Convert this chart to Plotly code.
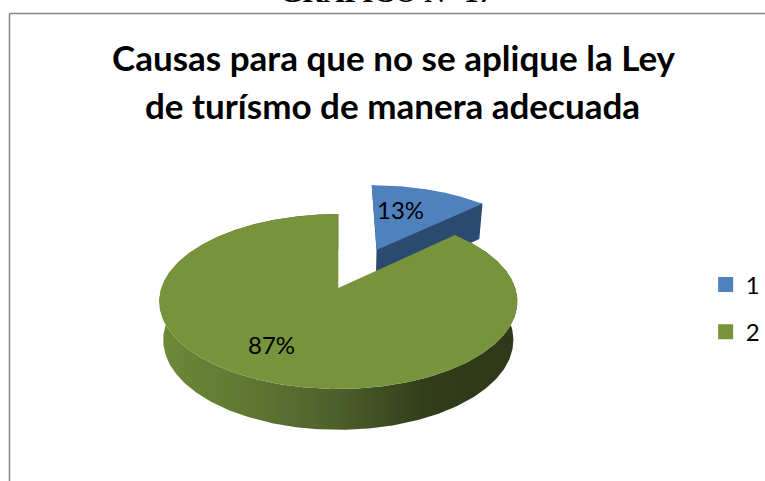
import numpy as np
import plotly.graph_objects as go

# ---- data ----
categories = ["1", "2"]
shares = [13, 87]
colors_top = ["#4f81bd", "#77933c"]
color_side_blue = "#2c4a70"
side_gradient = [[0.0, "#6b8838"], [0.25, "#5f7733"], [0.5, "#4d5f2b"], [0.75, "#323d1b"], [1.0, "#2f3818"]]
title_lines = ["Causas para que no se aplique la Ley", "de turísmo de manera adecuada"]
heading = "GRÁFICO N° 17"

# ---- 3D pie projection (layout only) ----
AX, BY, K = 176.9, 85.4, 0.154
X0, Y0 = 338.3, 288.0
EXPLODE_U, EXPLODE_V = 0.232, 0.478


def project(u, v, lower=False):
    w = 1 + K * v
    x = AX * u / w
    y = BY * v / w
    if lower:
        x = x * 0.978
        y = y - 38.0 / (1 + 0.07 * v)
    return X0 + x, Y0 - y


def arc(start, end, n=160):
    t = np.linspace(start, end, n)
    return np.sin(t), np.cos(t)


frac = np.array(shares) / sum(shares)
a1 = 2 * np.pi * frac[0]

fig = go.Figure()

# blue exploded slice: side first, then top
u, v = arc(0, a1)
u = u + EXPLODE_U
v = v + EXPLODE_V
top_x, top_y = project(u, v)
low_x, low_y = project(u, v, True)
ax_t, ay_t = project(np.array([EXPLODE_U]), np.array([EXPLODE_V]))
ax_l, ay_l = project(np.array([EXPLODE_U]), np.array([EXPLODE_V]), True)
fig.add_trace(go.Scatter(
    x=[ax_t[0], top_x[0], top_x[-1], low_x[-1], ax_l[0], ax_t[0]],
    y=[ay_t[0], top_y[0], top_y[-1], low_y[-1], ay_l[0], ay_t[0]],
    mode="lines", fill="toself", fillcolor=color_side_blue, line=dict(width=0), showlegend=False, hoverinfo="skip"))
fig.add_trace(go.Scatter(
    x=np.r_[ax_t, top_x, ax_t], y=np.r_[ay_t, top_y, ay_t],
    mode="lines", fill="toself", fillcolor=colors_top[0], line=dict(width=0), showlegend=False, hoverinfo="skip"))

# green slice: side with horizontal gradient, then top
u, v = arc(a1, 2 * np.pi, 400)
top_x, top_y = project(u, v)
low_x, low_y = project(u, v, True)
fig.add_trace(go.Scatter(
    x=np.r_[top_x, low_x[::-1]], y=np.r_[top_y, low_y[::-1]],
    mode="lines", fill="toself", line=dict(width=0), showlegend=False, hoverinfo="skip",
    fillgradient=dict(type="horizontal", colorscale=side_gradient, start=165, stop=510)))
ax_g, ay_g = project(np.array([0.0]), np.array([0.0]))
fig.add_trace(go.Scatter(
    x=np.r_[ax_g, top_x, ax_g], y=np.r_[ay_g, top_y, ay_g],
    mode="lines", fill="toself", fillcolor=colors_top[1], line=dict(width=0), showlegend=False, hoverinfo="skip"))

# legend entries
for i, (name, col) in enumerate(zip(categories, colors_top)):
    fig.add_trace(go.Scatter(
        x=[None], y=[None], mode="markers", name=name, legendgroup=name,
        marker=dict(symbol="square", size=15, color=col)))

FONT = "Lato, Carlito, Calibri, sans-serif"
annotations = [
    dict(x=400, y=209, text=f"{shares[0]}%", showarrow=False, font=dict(family=FONT, size=24, color="#000000")),
    dict(x=271.5, y=344, text=f"{shares[1]}%", showarrow=False, font=dict(family=FONT, size=24, color="#000000")),
    dict(x=394, y=56.5, text=title_lines[0], showarrow=False, font=dict(family=FONT, size=35, color="#000000", weight="bold")),
    dict(x=392, y=105, text=title_lines[1], showarrow=False, font=dict(family=FONT, size=35, color="#000000", weight="bold")),
    dict(x=386, y=4, yanchor="bottom", yshift=-6, text=heading, showarrow=False,
         font=dict(family="Liberation Serif", size=29, color="#000000", weight="bold")),
]

fig.update_layout(
    width=765, height=481, autosize=False,
    margin=dict(l=0, r=0, t=0, b=0),
    paper_bgcolor="#ffffff", plot_bgcolor="#ffffff",
    xaxis=dict(range=[0, 765], visible=False, fixedrange=True),
    yaxis=dict(range=[481, 0], visible=False, fixedrange=True),
    annotations=annotations,
    shapes=[
        dict(type="line", x0=9.5, x1=765, y0=13.5, y1=13.5, line=dict(color="#868686", width=1.5)),
        dict(type="line", x0=9.5, x1=9.5, y0=13.5, y1=481, line=dict(color="#868686", width=1.5)),
    ],
    legend=dict(
        x=0.9224, y=0.4544, xanchor="left", yanchor="top",
        font=dict(family=FONT, size=24, color="#000000"),
        tracegroupgap=13, itemwidth=30, bgcolor="rgba(0,0,0,0)",
    ),
    showlegend=True,
)
fig.write_html(
    "out.html",
    config={"displayModeBar": False},
    post_script="document.body.style.margin='0';document.documentElement.style.overflow='hidden';",
)
